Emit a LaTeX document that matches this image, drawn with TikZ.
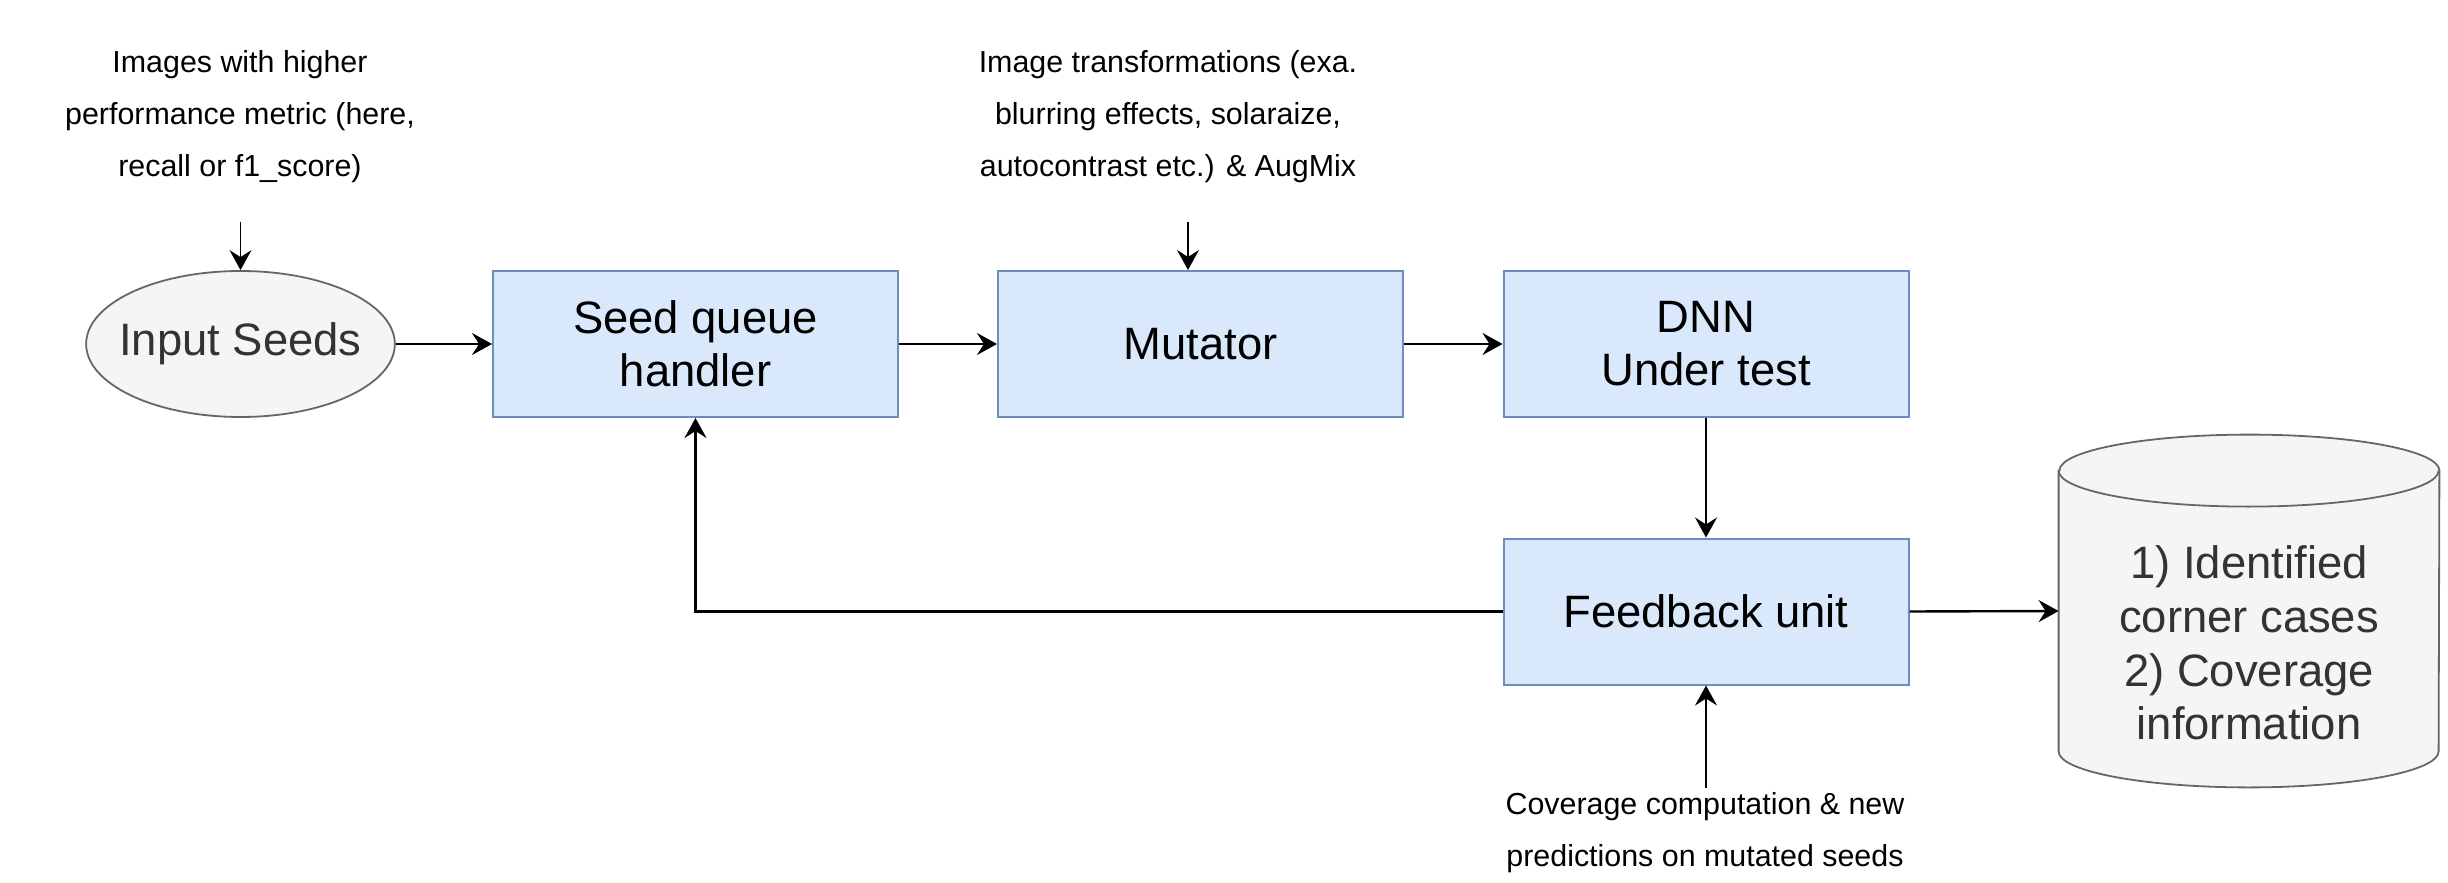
\documentclass[tikz,border=0pt]{standalone}
\usepackage{fontspec}
\setmainfont{Liberation Sans}
\usetikzlibrary{arrows.meta,shapes.geometric}
\definecolor{boxfill}{HTML}{DAE8FC}
\definecolor{boxdraw}{HTML}{6C8EBF}
\definecolor{greyfill}{HTML}{F5F5F5}
\definecolor{greydraw}{HTML}{666666}
\definecolor{greytext}{HTML}{333333}
\begin{document}
\begin{tikzpicture}[x=0.5pt,y=-0.5pt,
  blockbox/.style={draw=boxdraw, fill=boxfill, line width=1pt, minimum width=202.5pt, minimum height=73pt, inner sep=0pt, align=center, font=\fontsize{22.7}{26.5}\selectfont},
  seedell/.style={ellipse, draw=greydraw, fill=greyfill, line width=0.9pt, minimum width=152.5pt, minimum height=73pt, inner ysep=0pt, inner xsep=-6pt, text=greytext, font=\fontsize{22.7}{26.5}\selectfont},
  arr/.style={-{Stealth[length=10pt,width=11pt,inset=3.5pt]}, line width=1.2pt},
  thinarr/.style={arr, line width=0.8pt},
  lbl/.style={align=center, font=\fontsize{15.2}{26}\selectfont},
  cyltxt/.style={align=center, text=greytext, font=\fontsize{22.7}{26.8}\selectfont}]
\useasboundingbox (0,0) rectangle (2448,883);

% nodes
\node[seedell] (inseeds) at (240.5,344) {Input Seeds};
\node[blockbox] (seed) at (695.5,344) {Seed queue\\handler};
\node[blockbox] (mut) at (1200.5,344) {Mutator};
\node[blockbox] (dnn) at (1706,344) {DNN\\Under test};
\node[blockbox] (fb) at (1706,611.5) {Feedback unit};

% cylinder
\node[minimum width=190pt, minimum height=176pt, inner sep=0pt] (db) at (2249,611) {};
\draw[draw=greydraw, fill=greyfill, line width=0.9pt]
  ([yshift=-18pt]db.north west) -- ([yshift=18pt]db.south west)
  arc[start angle=180, end angle=360, x radius=95pt, y radius=18pt]
  -- ([yshift=-18pt]db.north east)
  arc[start angle=0, end angle=180, x radius=95pt, y radius=18pt] -- cycle;
\draw[draw=greydraw, line width=0.9pt]
  ([yshift=-18pt]db.north west) arc[start angle=180, end angle=360, x radius=95pt, y radius=18pt];
\node[cyltxt] (dbtext) at (2249,643) {1) Identified\\corner cases\\2) Coverage\\information};

% labels
\node[lbl] (lab1) at (240,117) {Images with higher\\performance metric (here,\\recall or f1\_score)};
\node[lbl] (lab2) at (1168,117) {Image transformations (exa.\\blurring effects, solaraize,\\autocontrast etc.) \& AugMix};
\node[lbl] (lab3) at (1705,833) {Coverage computation \& new\\predictions on mutated seeds};
\coordinate (l1end) at (240.5,222);
\coordinate (l2end) at (1188,222);
\coordinate (l3end) at (1706,788);

% connectors
\draw[thinarr] (l1end) -- (inseeds.north);
\draw[thinarr] (l2end) -- (l2end |- mut.north);
\draw[thinarr] (l3end) -- (fb.south);
\draw[arr] (inseeds.east) -- (seed.west);
\draw[arr] (seed.east) -- (mut.west);
\draw[arr] (mut.east) -- (dnn.west);
\draw[arr] (dnn.south) -- (fb.north);
\draw[arr] (fb.east) -- (db.west);
\draw[arr] (fb.west) -| (seed.south);
\end{tikzpicture}
\end{document}
